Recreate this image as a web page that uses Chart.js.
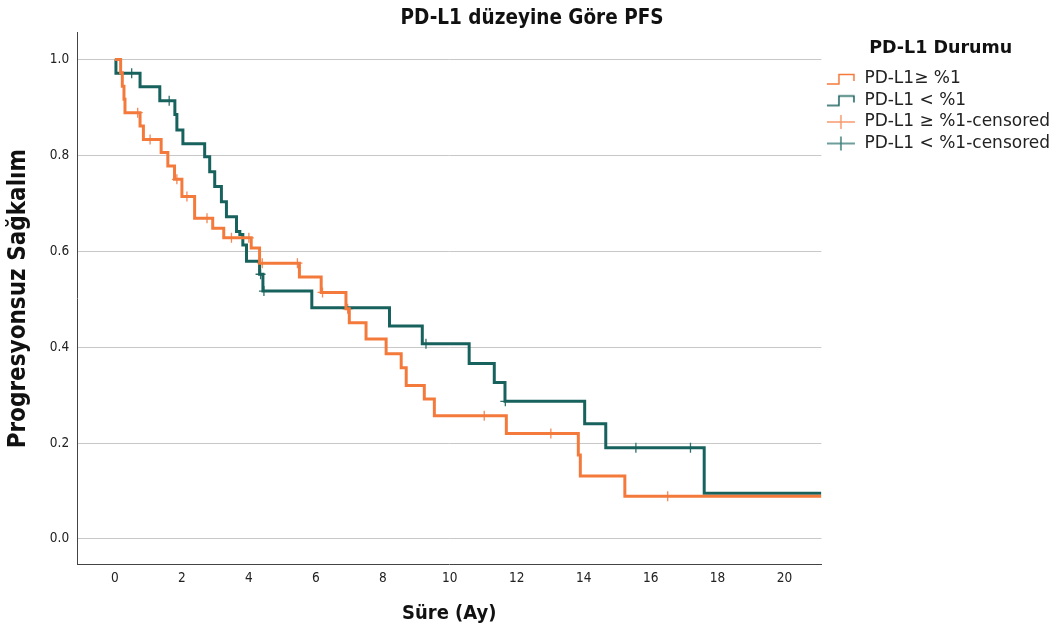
<!DOCTYPE html>
<html>
<head>
<meta charset="utf-8">
<script src="https://cdn.jsdelivr.net/npm/chart.js@4.4.0/dist/chart.umd.min.js"></script>
<style>
  html, body { margin: 0; padding: 0; background: #ffffff; }
  #wrap { width: 1060px; height: 639px; }
</style>
</head>
<body>
<div id="wrap"><canvas id="km" width="1060" height="639"></canvas></div>
<script>
// Kaplan-Meier verileri
const pozitifZaman = [0, 0.17, 0.22, 0.27, 0.30, 0.75, 0.85, 1.38, 1.58, 1.78, 2.0, 2.38, 2.92, 3.25, 4.07,
  4.32, 5.51, 6.16, 6.9, 7.0, 7.5, 8.1, 8.55, 8.7, 9.24, 9.54, 11.69, 13.84, 13.9, 15.23];
const pozitifSag = [1, 0.972, 0.944, 0.917, 0.889, 0.861, 0.833, 0.806, 0.778, 0.75, 0.714, 0.669, 0.648, 0.628, 0.607,
  0.575, 0.546, 0.514, 0.48, 0.451, 0.417, 0.386, 0.357, 0.32, 0.292, 0.257, 0.22, 0.175, 0.131, 0.089];
const pozitifSansur = [0.68, 1.05, 1.85, 2.15, 2.75, 3.48, 4.0, 4.4, 5.45, 6.2, 6.95, 11.03, 13.02, 16.51];

const negatifZaman = [0, 0.03, 0.75, 1.34, 1.79, 1.85, 2.03, 2.68, 2.83, 2.98, 3.18, 3.33, 3.63, 3.73, 3.82,
  3.93, 4.32, 4.42, 5.88, 8.2, 9.18, 10.58, 11.33, 11.65, 14.03, 14.66, 17.6];
const negatifSag = [1, 0.971, 0.943, 0.914, 0.885, 0.853, 0.824, 0.797, 0.766, 0.735, 0.703, 0.672, 0.641, 0.635, 0.613,
  0.579, 0.552, 0.517, 0.482, 0.444, 0.407, 0.366, 0.326, 0.287, 0.24, 0.19, 0.095];
const negatifSansur = [0.5, 1.62, 4.35, 4.45, 9.29, 11.66, 15.56, 17.19];

const takipSonu = 21.1;
const xTikleri = [0, 2, 4, 6, 8, 10, 12, 14, 16, 18, 20];
const yTikleri = [0, 0.2, 0.4, 0.6, 0.8, 1.0];

const turuncu = "#f47a3c";
const yesil = "#18625e";

// adım fonksiyonu noktaları
function egri(zaman, sag) {
  const pts = zaman.map((t, i) => ({ x: t, y: sag[i] }));
  pts.push({ x: takipSonu, y: sag[sag.length - 1] });
  return pts;
}
function sagkalimAt(zaman, sag, t) {
  let s = 1;
  for (let i = 0; i < zaman.length; i++) if (zaman[i] <= t) s = sag[i];
  return s;
}
function sansurNoktalari(sansur, zaman, sag) {
  return sansur.map(t => ({ x: t, y: sagkalimAt(zaman, sag, t) }));
}

// lejant ikonları
function basamakIkon(renk) {
  const c = document.createElement("canvas");
  c.width = 30; c.height = 14;
  const g = c.getContext("2d");
  g.strokeStyle = renk; g.lineWidth = 1.5;
  g.beginPath();
  g.moveTo(1, 12); g.lineTo(13, 12); g.lineTo(13, 2.5); g.lineTo(28, 2.5); g.lineTo(28, 9);
  g.stroke();
  return c;
}
function artiIkon(renk) {
  const c = document.createElement("canvas");
  c.width = 30; c.height = 16;
  const g = c.getContext("2d");
  g.strokeStyle = renk; g.lineWidth = 1.5;
  g.beginPath();
  g.moveTo(1, 8); g.lineTo(29, 8);
  g.moveTo(15, 1); g.lineTo(15, 15);
  g.stroke();
  return c;
}

const ikonlar = [basamakIkon(turuncu), basamakIkon(yesil), artiIkon("#f79a6c"), artiIkon("#3f7f7b")];
const lejantYazilari = ["PD-L1≥ %1", "PD-L1 < %1", "PD-L1 ≥ %1-censored", "PD-L1 < %1-censored"];

const dar = "'Liberation Sans Narrow', 'DejaVu Sans Condensed', 'Arial Narrow', sans-serif";
const genis = "'DejaVu Sans', Verdana, sans-serif";

const ctx = document.getElementById("km").getContext("2d");
const grafik = new Chart(ctx, {
  type: "line",
  data: {
    datasets: [
      {
        label: lejantYazilari[0],
        data: egri(pozitifZaman, pozitifSag),
        stepped: "before",
        borderColor: turuncu,
        borderWidth: 3,
        pointRadius: 0,
        fill: false,
      },
      {
        label: lejantYazilari[1],
        data: egri(negatifZaman, negatifSag),
        stepped: "before",
        borderColor: yesil,
        borderWidth: 3,
        pointRadius: 0,
        fill: false,
      },
      {
        label: lejantYazilari[2],
        data: sansurNoktalari(pozitifSansur, pozitifZaman, pozitifSag),
        showLine: false,
        pointStyle: "cross",
        pointRadius: 5,
        pointBorderWidth: 1.3,
        borderColor: "#f0885a",
        backgroundColor: "#f0885a",
      },
      {
        label: lejantYazilari[3],
        data: sansurNoktalari(negatifSansur, negatifZaman, negatifSag),
        showLine: false,
        pointStyle: "cross",
        pointRadius: 5,
        pointBorderWidth: 1.3,
        borderColor: "#2f6e6a",
        backgroundColor: "#2f6e6a",
      },
    ],
  },
  options: {
    responsive: false,
    animation: false,
    devicePixelRatio: 1,
    layout: { padding: { left: 4, right: 0, top: 0, bottom: 13 } },
    plugins: {
      title: {
        display: true,
        text: "PD-L1 düzeyine Göre PFS",
        color: "#111",
        font: { family: dar, size: 20.5, weight: "bold" },
        padding: { top: 6, bottom: 2 },
      },
      tooltip: { enabled: false },
      legend: {
        position: "right",
        align: "start",
        title: {
          display: true,
          text: "PD-L1 Durumu",
          color: "#111",
          font: { family: genis, size: 17.5, weight: "bold" },
          padding: { top: 40, bottom: 5 },
        },
        labels: {
          usePointStyle: true,
          pointStyleWidth: 30,
          color: "#222",
          font: { family: genis, size: 17 },
          padding: 4.5,
          generateLabels: (chart) =>
            chart.data.datasets.map((ds, i) => ({
              text: ds.label,
              pointStyle: ikonlar[i],
              datasetIndex: i,
              hidden: false,
              lineWidth: 0,
              fontColor: "#222",
            })),
        },
      },
    },
    scales: {
      x: {
        type: "linear",
        min: -1.13,
        max: takipSonu,
        afterBuildTicks: (ax) => { ax.ticks = xTikleri.map(v => ({ value: v })); },
        grid: { display: false, drawTicks: false },
        border: { display: true, color: "#444", width: 1 },
        ticks: { color: "#222", font: { family: dar, size: 13.5 }, padding: 6 },
        title: {
          display: true,
          text: "Süre (Ay)",
          color: "#111",
          font: { family: dar, size: 20, weight: "bold" },
          padding: { top: 9, bottom: 0 },
        },
      },
      y: {
        type: "linear",
        min: -0.054,
        max: 1.056,
        afterBuildTicks: (ax) => { ax.ticks = yTikleri.map(v => ({ value: v })); },
        grid: { color: "#c8c8c8", lineWidth: 1, drawTicks: false },
        border: { display: true, color: "#444", width: 1 },
        ticks: {
          color: "#222",
          font: { family: dar, size: 13.5 },
          padding: 8,
          callback: (v) => Number(v).toFixed(1),
        },
        title: {
          display: true,
          text: "Progresyonsuz Sağkalım",
          color: "#111",
          font: { family: dar, size: 24, weight: "bold" },
          padding: { top: 0, bottom: 9 },
        },
      },
    },
  },
});
</script>
</body>
</html>
